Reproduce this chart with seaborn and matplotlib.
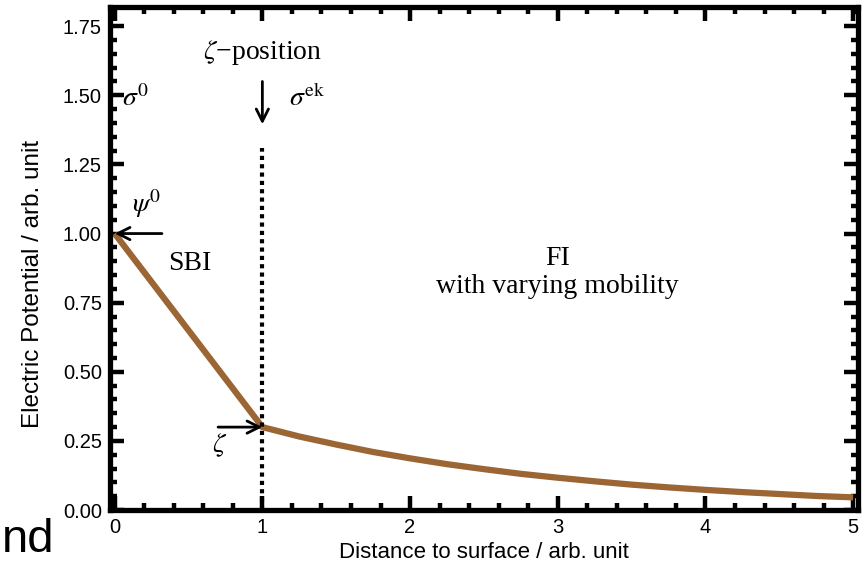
import numpy as np
import pandas as pd
import matplotlib
matplotlib.use("Agg")
import matplotlib.pyplot as plt
import seaborn as sns
from matplotlib.ticker import MultipleLocator

# data
distance = [0.0, 1.0, 1.25, 1.5, 1.75, 2.0, 2.25, 2.5, 2.75, 3.0, 3.25, 3.5, 3.75, 4.0, 4.25, 4.5, 4.75, 5.0]
potential = [1.0, 0.30, 0.266, 0.237, 0.210, 0.187, 0.166, 0.148, 0.131, 0.117, 0.104, 0.092, 0.082, 0.073, 0.065, 0.058, 0.051, 0.046]
x_ticks = [0, 1, 2, 3, 4, 5]
y_ticks = [0.00, 0.25, 0.50, 0.75, 1.00, 1.25, 1.50, 1.75]

sns.set_style("ticks")
plt.rcParams['font.family'] = ['Liberation Sans', 'DejaVu Sans']
plt.rcParams['mathtext.fontset'] = 'stix'
plt.rcParams['text.color'] = 'black'
plt.rcParams['axes.labelcolor'] = 'black'
plt.rcParams['xtick.color'] = 'black'
plt.rcParams['ytick.color'] = 'black'

fig = plt.figure(figsize=(8.68, 5.68), dpi=100)
ax = fig.add_axes([0.127, 0.102, 0.861, 0.886])

df = pd.DataFrame({"x": distance, "y": potential})
sns.lineplot(data=df, x="x", y="y", ax=ax, color="#9B6534", linewidth=4.5,
             sort=False, estimator=None, solid_capstyle="butt")

ax.set_xlim(-0.03, 5.03)
ax.set_ylim(0, 1.82)
ax.set_xticks(x_ticks)
ax.set_yticks(y_ticks)
ax.set_xticklabels([str(v) for v in x_ticks])
ax.set_yticklabels([f"{v:.2f}" for v in y_ticks])
ax.xaxis.set_minor_locator(MultipleLocator(0.2))
ax.yaxis.set_minor_locator(MultipleLocator(0.05))
ax.tick_params(which="both", direction="in", top=True, right=True, width=3.2,
               labelsize=14.5, labelcolor="black")
ax.tick_params(which="major", length=10, pad=6)
ax.tick_params(which="minor", length=5)
for s in ax.spines.values():
    s.set_linewidth(3.8)
    s.set_color("black")

ax.set_xlabel("Distance to surface / arb. unit", fontsize=16, labelpad=3)
ax.set_ylabel("Electric Potential / arb. unit", fontsize=17.5)
ax.yaxis.set_label_coords(-0.088, 0.45)

# zeta position dotted line
ax.plot([1, 1], [0, 1.31], color="black", linewidth=3, linestyle=(0, (1, 1)))

serif = dict(family="Liberation Serif", fontsize=20, color="black")
ax.text(1.0, 1.655, r"$\zeta$" + "\u2212position", ha="center", va="center", **serif)
ax.annotate("", xy=(1.0, 1.385), xytext=(1.0, 1.56),
            arrowprops=dict(arrowstyle="->", color="black", lw=2, mutation_scale=22))
ax.text(1.18, 1.49, r"$\sigma^{\mathrm{ek}}$", ha="left", va="center", **serif)
ax.text(0.05, 1.49, r"$\sigma^{0}$", ha="left", va="center", **serif)
ax.text(0.12, 1.11, r"$\psi^{0}$", ha="left", va="center", **serif)
ax.annotate("", xy=(0.0, 1.0), xytext=(0.32, 1.0),
            arrowprops=dict(arrowstyle="->", color="black", lw=2, mutation_scale=22,
                            shrinkA=0, shrinkB=0))
ax.text(0.51, 0.89, "SBI", ha="center", va="center", **serif)
ax.text(3.0, 0.91, "FI", ha="center", va="center", **serif)
ax.text(3.0, 0.81, "with varying mobility", ha="center", va="center", **serif)
ax.annotate("", xy=(1.0, 0.30), xytext=(0.70, 0.30),
            arrowprops=dict(arrowstyle="->", color="black", lw=2, mutation_scale=22,
                            shrinkA=0, shrinkB=0))
ax.text(0.71, 0.235, r"$\zeta$", ha="center", va="center", **serif)

# slide remnant
fig.text(0.002, 0.01, "nd", fontsize=34, ha="left", va="bottom", family="Liberation Sans")

fig.savefig("out.png", dpi=100)
